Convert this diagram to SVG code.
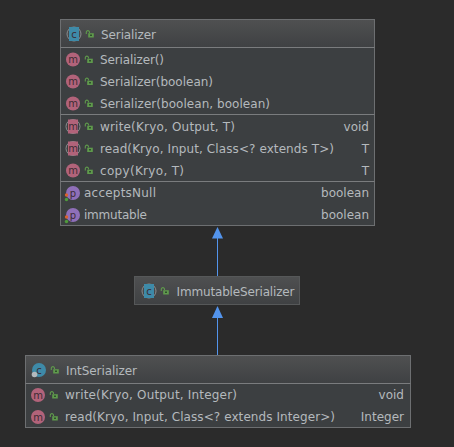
<svg xmlns="http://www.w3.org/2000/svg" width="454" height="447" viewBox="0 0 454 447">
<style>
text{font-family:"DejaVu Sans","Liberation Sans",sans-serif;font-size:12px;fill:#b4b9bd}
.r{text-anchor:end}
.ic{font-size:10px;text-anchor:middle;fill:#3c2c34}
.box{fill:#3c3f41;stroke:#6d6f71;stroke-width:1}
.div{stroke:#7a7c7e;stroke-width:1}
.conn{stroke:#5394ec;stroke-width:1;fill:none}
.head{fill:#5394ec}
</style>
<defs>
<linearGradient id="hg" x1="0" y1="0" x2="0" y2="1"><stop offset="0" stop-color="#4f5051"/><stop offset="1" stop-color="#3f4143"/></linearGradient>
<g id="lock"><path d="M-3.700 0V-1.800a1.600 1.600 0 0 1 3.200 0V-1" fill="none" stroke="#5f9a4c" stroke-width="1.100"/><rect x="-1.800" y="-0.800" width="5.600" height="4.300" fill="#5f9a4c"/><rect x="0" y="0.500" width="2" height="1.500" fill="#2f4f2c"/></g>
<g id="m"><circle r="7" fill="#b2637a"/><text class="ic" y="3.500">m</text></g>
<g id="ma"><circle r="7" fill="none" stroke="#8a8c8e" stroke-width="1"/><rect x="-5" y="-7" width="10" height="14" fill="#b2637a"/><text class="ic" y="3.500">m</text></g>
<g id="p"><circle r="7" fill="#8f6fb8"/><text class="ic" y="3.500">p</text><circle cx="-6.500" cy="2" r="1.700" fill="#d9612c"/><circle cx="-6.500" cy="6.500" r="1.700" fill="#4f9a3c"/></g>
<g id="ca"><circle r="7" fill="none" stroke="#8a8c8e" stroke-width="1"/><rect x="-5" y="-7" width="10" height="14" fill="#3e8aa8"/><text class="ic" y="3.500">c</text></g>
</defs>
<rect width="454" height="447" fill="#2b2b2b"/>
<g id="connectors">
<path class="conn" d="M217.500 276V237"/><path class="head" d="M217.500 227L223 238.500H212z"/>
<path class="conn" d="M217.500 355V317"/><path class="head" d="M217.500 306L223 318H212z"/>
</g>
<g id="serializer">
<rect class="box" x="60.500" y="19.500" width="314" height="206"/>
<rect x="61" y="20" width="313" height="27" fill="url(#hg)"/>
<path class="div" d="M60.500 47.500H374.500M60.500 114.500H374.500M60.500 181.500H374.500"/>
<use href="#ca" x="74" y="34"/><use href="#lock" x="90" y="34"/><text x="101" y="39" textLength="55">Serializer</text>
<use href="#m" x="73" y="59.500"/><use href="#lock" x="89" y="59.500"/><text x="100" y="64" textLength="64">Serializer()</text>
<use href="#m" x="73" y="81.500"/><use href="#lock" x="89" y="81.500"/><text x="100" y="86" textLength="113">Serializer(boolean)</text>
<use href="#m" x="73" y="103.500"/><use href="#lock" x="89" y="103.500"/><text x="100" y="108" textLength="170">Serializer(boolean, boolean)</text>
<use href="#ma" x="73" y="126.500"/><use href="#lock" x="89" y="126.500"/><text x="100" y="131" textLength="135">write(Kryo, Output, T)</text><text class="r" x="369" y="131">void</text>
<use href="#ma" x="73" y="148.500"/><use href="#lock" x="89" y="148.500"/><text x="100" y="153" textLength="234">read(Kryo, Input, Class&lt;? extends T&gt;)</text><text class="r" x="369" y="153">T</text>
<use href="#m" x="73" y="170.500"/><use href="#lock" x="89" y="170.500"/><text x="100" y="175" textLength="84">copy(Kryo, T)</text><text class="r" x="369" y="175">T</text>
<use href="#p" x="73" y="193"/><text x="84" y="197" textLength="72">acceptsNull</text><text class="r" x="369" y="197">boolean</text>
<use href="#p" x="73" y="215"/><text x="84" y="219" textLength="63">immutable</text><text class="r" x="369" y="219">boolean</text>
</g>
<g id="immutableserializer">
<rect x="134.500" y="276.500" width="165" height="28" fill="url(#hg)" stroke="#565859"/>
<use href="#ca" x="149" y="291"/><use href="#lock" x="165" y="291"/><text x="176.500" y="296" textLength="118">ImmutableSerializer</text>
</g>
<g id="intserializer">
<rect class="box" x="25.500" y="355.500" width="385" height="72"/>
<rect x="26" y="356" width="384" height="27" fill="url(#hg)"/>
<path class="div" d="M25.500 383.500H410.500"/>
<circle cx="39" cy="370" r="7" fill="#3e8aa8"/><text class="ic" x="39" y="373.500">c</text><circle cx="34.500" cy="374.500" r="2.800" fill="#b4b9bd"/>
<use href="#lock" x="55" y="370"/><text x="66" y="375" textLength="71">IntSerializer</text>
<use href="#m" x="38" y="395"/><use href="#lock" x="54" y="395"/><text x="65" y="399" textLength="172">write(Kryo, Output, Integer)</text><text class="r" x="404" y="399">void</text>
<use href="#m" x="38" y="417"/><use href="#lock" x="54" y="417"/><text x="65" y="421" textLength="270">read(Kryo, Input, Class&lt;? extends Integer&gt;)</text><text class="r" x="404" y="421">Integer</text>
</g>
</svg>
